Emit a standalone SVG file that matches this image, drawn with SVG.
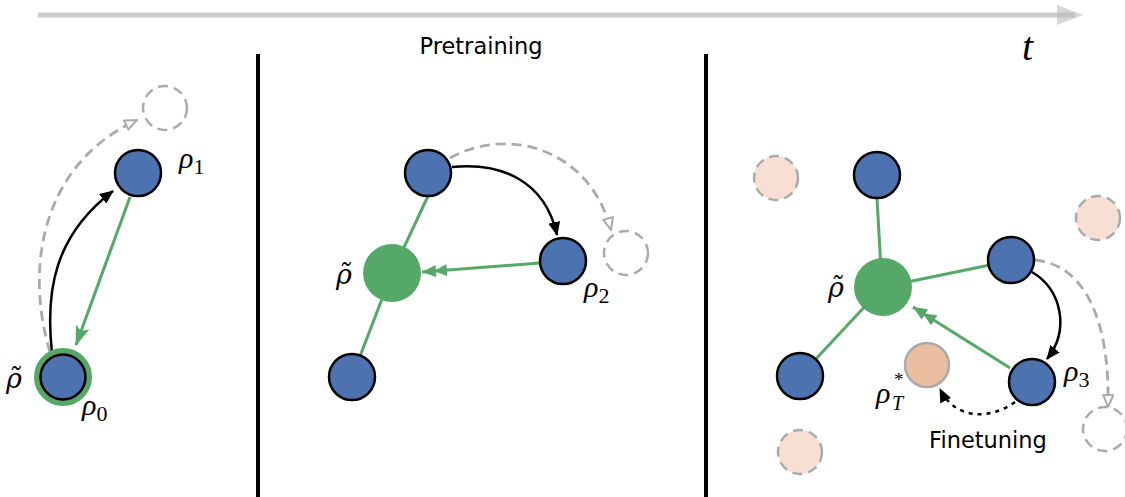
<svg xmlns="http://www.w3.org/2000/svg" width="1125" height="497" viewBox="0 0 1125 497">
<style>
.blue{fill:#4c72b0;stroke:#000;stroke-width:2.5}
.ghost{fill:#fff;stroke:#aaa;stroke-width:2.5;stroke-dasharray:10 6}
.pale{fill:#f7e0d3;stroke:#aaa;stroke-width:2.5;stroke-dasharray:10 6}
.green{fill:#55a868}
.gl{stroke:#55a868;stroke-width:3;fill:none}
.bk{stroke:#000;stroke-width:2.5;fill:none}
.gd{stroke:#aaa;stroke-width:2.8;fill:none;stroke-dasharray:10 6}
.math{font-family:"Liberation Serif","DejaVu Serif",serif;font-style:italic;fill:#000}
.tl{font-family:"DejaVu Serif",serif;font-style:italic;font-size:27px;fill:#000}
.sub{font-family:"Liberation Serif","DejaVu Serif",serif;font-style:normal;fill:#000}
.lbl{font-family:"DejaVu Sans",sans-serif;font-size:22.5px;fill:#000}
</style>
<defs>
<marker id="abk" viewBox="0 0 14 12" refX="13" refY="6" markerWidth="14" markerHeight="12" orient="auto" markerUnits="userSpaceOnUse">
<path d="M0,0 L14,6 L0,12 z" fill="#000"/>
</marker>
<marker id="agr" viewBox="0 0 14 12" refX="13" refY="6" markerWidth="14" markerHeight="12" orient="auto" markerUnits="userSpaceOnUse">
<path d="M1,1 L13,6 L1,11 z" fill="#fff" stroke="#aaa" stroke-width="2"/>
</marker>
<marker id="ag1" viewBox="0 0 20 14" refX="19" refY="7" markerWidth="20" markerHeight="14" orient="auto" markerUnits="userSpaceOnUse">
<path d="M0,0 L20,7 L0,14 L4,7 z" fill="#55a868"/>
</marker>
<marker id="ag2" viewBox="0 0 26 14" refX="25" refY="7" markerWidth="26" markerHeight="14" orient="auto" markerUnits="userSpaceOnUse">
<path d="M0,1 L13,7 L0,13 z M11,1 L25,7 L11,13 z" fill="#55a868"/>
</marker>
</defs>

<g id="timeline">
<line x1="38" y1="15" x2="1075" y2="15" stroke="#ccc" stroke-width="5"/>
<path d="M1057,5 L1083,15 L1057,25 z" fill="#bbb" opacity="0.6"/>
<text x="1022" y="60" class="math" font-size="40">t</text>
</g>
<text x="481" y="54" class="lbl" text-anchor="middle">Pretraining</text>
<g id="dividers">
<line x1="258" y1="54" x2="258" y2="497" stroke="#000" stroke-width="4"/>
<line x1="706" y1="54" x2="706" y2="497" stroke="#000" stroke-width="4"/>
</g>

<g id="connectors">
<!-- panel 1 -->
<path class="gd" d="M50,352 C25,270 40,165 137,120" marker-end="url(#agr)"/>
<path class="bk" d="M52,353 C45,290 55,235 113,191" marker-end="url(#abk)"/>
<line class="gl" x1="130" y1="197" x2="76" y2="345" marker-end="url(#ag1)"/>
<!-- panel 2 -->
<line class="gl" x1="428" y1="196" x2="392" y2="273"/>
<line class="gl" x1="392" y1="273" x2="352" y2="377"/>
<line class="gl" x1="540" y1="263" x2="422" y2="272" marker-end="url(#ag2)"/>
<path class="gd" d="M450,158 C510,125 590,150 611,230" marker-end="url(#agr)"/>
<path class="bk" d="M452,167 C500,162 545,180 557,235" marker-end="url(#abk)"/>
<!-- panel 3 -->
<line class="gl" x1="877" y1="198" x2="882" y2="287"/>
<line class="gl" x1="883" y1="287" x2="990" y2="265"/>
<line class="gl" x1="883" y1="287" x2="800" y2="376"/>
<line class="gl" x1="1010" y1="368" x2="913" y2="307" marker-end="url(#ag2)"/>
<path class="bk" d="M1032,272 C1062,290 1070,330 1047,359" marker-end="url(#abk)"/>
<path class="gd" d="M1035,260 C1085,265 1110,320 1108,407" marker-end="url(#agr)"/>
<path class="bk" d="M1015,402 C990,420 955,420 940,389" stroke-dasharray="4 5" marker-end="url(#abk)"/>
</g>

<g id="p1-ghost"><circle class="ghost" cx="165" cy="108" r="22"/></g>
<g id="p1-rho1"><circle class="blue" cx="138" cy="173" r="23"/>
<text x="179" y="168" class="math" font-size="30">ρ<tspan class="sub" font-size="22" dy="6">1</tspan></text></g>
<g id="p1-rho0"><circle cx="63" cy="377" r="26" fill="none" stroke="#55a868" stroke-width="6"/><circle class="blue" cx="63" cy="377" r="22.5"/>
<text x="6" y="388" class="tl">ρ̃</text>
<text x="82" y="415" class="math" font-size="30">ρ<tspan class="sub" font-size="22" dy="6">0</tspan></text></g>

<g id="p2-top"><circle class="blue" cx="428" cy="173" r="23"/></g>
<g id="p2-center"><circle class="green" cx="392" cy="273" r="29"/>
<text x="336" y="284" class="tl">ρ̃</text></g>
<g id="p2-rho2"><circle class="blue" cx="563" cy="261" r="23"/>
<text x="584" y="297" class="math" font-size="30">ρ<tspan class="sub" font-size="22" dy="6">2</tspan></text></g>
<g id="p2-bottom"><circle class="blue" cx="352" cy="377" r="23"/></g>
<g id="p2-ghost"><circle class="ghost" cx="626" cy="253" r="22"/></g>

<g id="p3-pale1"><circle class="pale" cx="776" cy="178" r="22"/></g>
<g id="p3-pale2"><circle class="pale" cx="1098" cy="218" r="22"/></g>
<g id="p3-pale3"><circle class="pale" cx="800" cy="452" r="22"/></g>
<g id="p3-ghost"><circle class="ghost" cx="1105" cy="429" r="22"/></g>
<g id="p3-top"><circle class="blue" cx="877" cy="175" r="23"/></g>
<g id="p3-center"><circle class="green" cx="883" cy="287" r="29"/>
<text x="828" y="297" class="tl">ρ̃</text></g>
<g id="p3-right"><circle class="blue" cx="1011" cy="260" r="23"/></g>
<g id="p3-left"><circle class="blue" cx="800" cy="376" r="23"/></g>
<g id="p3-rho3"><circle class="blue" cx="1032" cy="382" r="23"/>
<text x="1064" y="381" class="math" font-size="30">ρ<tspan class="sub" font-size="22" dy="6">3</tspan></text></g>
<g id="p3-target"><circle cx="927" cy="365" r="22" fill="#ebbea2" stroke="#aaa" stroke-width="2.5"/>
<text x="876" y="403" class="math" font-size="30">ρ</text>
<text x="894" y="386" class="sub" font-size="19">*</text>
<text x="892" y="410" class="math" font-size="20">T</text></g>
<text x="988" y="448" class="lbl" text-anchor="middle">Finetuning</text>
</svg>
